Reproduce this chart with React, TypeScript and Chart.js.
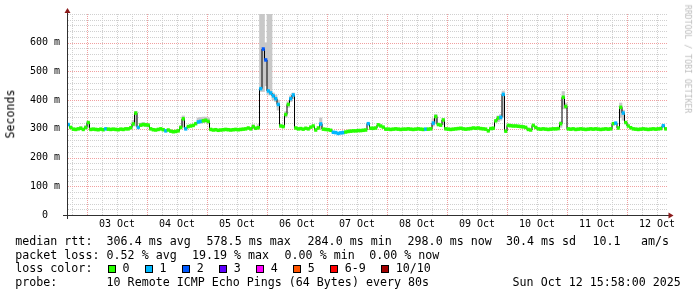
import { useEffect, useRef } from 'react';
import { Chart, registerables } from 'chart.js';

Chart.register(...registerables);

// Time axis: hours since Oct 2 16:00 (10 days = 240 hours, one slot per hour)
const TOTAL_HOURS = 240;
const dayLabels = ['03 Oct', '04 Oct', '05 Oct', '06 Oct', '07 Oct', '08 Oct', '09 Oct', '10 Oct', '11 Oct', '12 Oct'];
const dayLabelHours = [20, 44, 68, 92, 116, 140, 164, 188, 212, 236];
const midnightHours = [8, 32, 56, 80, 104, 128, 152, 176, 200, 224];

// median rtt per hour (ms)
const medianRtt = [
  315, 305, 299, 298, 300, 302, 298, 305, 322, 298, 299, 298, 297, 299, 297, 300, 299, 298, 299, 298, 297, 299, 298, 300,
  300, 304, 317, 355, 305, 313, 315, 314, 313, 300, 297, 296, 298, 300, 297, 293, 296, 292, 290, 291, 293, 305, 335, 300,
  308, 310, 312, 318, 324, 326, 328, 330, 326, 298, 296, 297, 295, 296, 297, 298, 297, 296, 297, 298, 297, 298, 299, 300,
  303, 300, 308, 302, 304, 440, 578, 540, 432, 425, 415, 405, 385, 310, 308, 350, 385, 405, 418, 303, 300, 301, 299, 302,
  300, 306, 310, 296, 303, 317, 299, 298, 297, 295, 288, 287, 284, 286, 287, 289, 291, 292, 293, 293, 294, 294, 295, 296,
  318, 302, 302, 303, 314, 310, 306, 299, 299, 298, 299, 300, 299, 298, 299, 299, 300, 299, 298, 299, 300, 299, 298, 299,
  299, 300, 320, 343, 315, 313, 331, 300, 299, 298, 299, 300, 301, 302, 300, 299, 300, 301, 303, 302, 303, 301, 300, 299,
  293, 301, 302, 328, 338, 340, 420, 292, 312, 311, 310, 310, 309, 308, 307, 305, 298, 296, 312, 305, 300, 299, 300, 299,
  298, 299, 300, 300, 301, 318, 410, 378, 300, 299, 300, 298, 299, 300, 299, 298, 299, 300, 299, 300, 299, 298, 299, 300,
  299, 300, 318, 320, 303, 375, 355, 322, 310, 304, 300, 299, 298, 299, 300, 299, 298, 299, 300, 299, 300, 301, 311, 300,
];

// hours with packet loss, and how many of the 10 pings were lost
const lossHours = [0, 15, 28, 39, 47, 52, 53, 77, 78, 79, 80, 81, 82, 83, 84, 89, 90, 101, 106, 107, 108, 109, 110, 120, 143, 146, 173, 174, 219, 222, 238];
const lossCounts = [1, 1, 1, 1, 1, 1, 1, 1, 2, 2, 1, 1, 1, 1, 1, 1, 1, 1, 1, 1, 1, 1, 1, 1, 1, 1, 1, 1, 1, 1, 1];

// smoke (spread of the individual pings) where it is visible
const smokeHours = [5, 7, 8, 26, 27, 29, 30, 31, 32, 45, 46, 52, 53, 54, 55, 56, 74, 76, 77, 78, 79, 80, 81, 82, 83, 84, 87, 88, 89, 90, 101, 146, 147, 150, 172, 173, 174, 197, 198, 199, 221, 222];
const smokeLow = [298, 298, 305, 310, 310, 308, 310, 308, 306, 300, 305, 320, 320, 322, 322, 318, 300, 300, 430, 430, 450, 418, 418, 400, 395, 365, 340, 375, 395, 405, 300, 310, 318, 315, 325, 330, 340, 305, 370, 370, 340, 330];
const smokeHigh = [308, 310, 325, 330, 360, 320, 322, 320, 318, 310, 345, 338, 340, 341, 341, 338, 314, 315, 710, 710, 600, 710, 710, 425, 418, 400, 360, 395, 415, 425, 338, 335, 350, 335, 345, 350, 432, 325, 430, 390, 390, 365];

const lossLegendLabels = ['0', '1', '2', '3', '4', '5', '6-9', '10/10'];
const lossLegendColors = ['#26ff00', '#00b8ff', '#0059ff', '#5e00ff', '#ff00ff', '#ff5500', '#ff0000', '#a10000'];

const Y_MAX = 700;
const Y_MINOR_STEP = 20;
const Y_MAJOR_STEP = 100;
const X_MINOR_STEP = 6;
const MONO = '"DejaVu Sans Mono", monospace';
const GRID_GRAY = '#d0d0d0';
const GRID_RED = '#f0a0a0';

function lossIndex(count: number): number {
  if (count <= 5) return count;
  if (count < 10) return 6;
  return 7;
}

// RRDtool-style dotted grid, drawn from the chart's own scales
const gridPlugin = {
  id: 'rrdGrid',
  beforeDatasetsDraw(chart: any) {
    const { ctx, chartArea, scales } = chart;
    const left = chartArea.left;
    const right = chartArea.right;
    const top = chartArea.top;
    const bottom = chartArea.bottom;
    const xs = scales['x'];
    const ys = scales['y'];
    ctx.save();
    ctx.lineWidth = 1;
    const vline = (h: number, color: string, dash: number[]) => {
      const px = Math.round(xs.getPixelForValue(h)) + 0.5;
      ctx.setLineDash(dash);
      ctx.strokeStyle = color;
      ctx.beginPath();
      ctx.moveTo(px, bottom);
      ctx.lineTo(px, top);
      ctx.stroke();
    };
    const hline = (v: number, color: string, dash: number[]) => {
      const py = Math.round(ys.getPixelForValue(v)) + 0.5;
      ctx.setLineDash(dash);
      ctx.strokeStyle = color;
      ctx.beginPath();
      ctx.moveTo(left + 1, py);
      ctx.lineTo(right, py);
      ctx.stroke();
    };
    for (let v = Y_MINOR_STEP; v <= Y_MAX; v += Y_MINOR_STEP) {
      if (v % Y_MAJOR_STEP !== 0 || v === Y_MAX) hline(v, GRID_GRAY, [1, 1]);
    }
    for (let h = 2; h < TOTAL_HOURS; h += X_MINOR_STEP) {
      if (midnightHours.indexOf(h) < 0) vline(h, GRID_GRAY, [1, 1]);
    }
    for (let v = Y_MAJOR_STEP; v < Y_MAX; v += Y_MAJOR_STEP) hline(v, GRID_RED, [1, 1]);
    for (let i = 0; i < midnightHours.length; i++) vline(midnightHours[i], GRID_RED, [1, 1]);
    ctx.restore();
  },
  afterDatasetsDraw(chart: any) {
    const { ctx, chartArea } = chart;
    const { left, right, top, bottom } = chartArea;
    ctx.save();
    ctx.strokeStyle = '#303030';
    ctx.lineWidth = 1;
    ctx.beginPath();
    ctx.moveTo(left - 4, bottom + 0.5);
    ctx.lineTo(right + 2, bottom + 0.5);
    ctx.moveTo(left + 0.5, bottom + 4);
    ctx.lineTo(left + 0.5, top - 2);
    ctx.stroke();
    ctx.fillStyle = '#8b1a1a';
    ctx.beginPath();
    ctx.moveTo(right + 1.5, bottom - 2.5);
    ctx.lineTo(right + 6.5, bottom + 0.5);
    ctx.lineTo(right + 1.5, bottom + 3.5);
    ctx.closePath();
    ctx.fill();
    ctx.beginPath();
    ctx.moveTo(left - 2.5, top - 1);
    ctx.lineTo(left + 0.5, top - 6);
    ctx.lineTo(left + 3.5, top - 1);
    ctx.closePath();
    ctx.fill();
    ctx.restore();
  },
};

export default function App() {
  const ref = useRef<HTMLCanvasElement>(null);

  useEffect(() => {
    const canvas = ref.current;
    if (!canvas) return;

    const lossPerHour = medianRtt.map((_, i) => {
      const k = lossHours.indexOf(i);
      return k >= 0 ? lossCounts[k] : 0;
    });

    const smokeData = smokeHours.map((h, i) => ({ x: h + 0.5, y: [smokeLow[i], smokeHigh[i]] }));
    const lineData = medianRtt.map((v, i) => ({ x: i + 0.5, y: v }));
    const lossBarData = medianRtt.map((v, i) => ({ x: i + 0.5, y: [v - 5, v + 5] }));
    const lossBarColors = lossPerHour.map((c) => lossLegendColors[lossIndex(c)]);

    const chart = new Chart(canvas, {
      type: 'bar',
      data: {
        datasets: [
          {
            type: 'bar',
            data: smokeData as any,
            backgroundColor: '#c8c8c8',
            barPercentage: 1,
            categoryPercentage: 1,
            grouped: false,
            order: 3,
            clip: 0,
          } as any,
          {
            type: 'line',
            data: lineData as any,
            borderColor: '#000000',
            borderWidth: 1,
            pointRadius: 0,
            stepped: 'middle',
            fill: false,
            order: 2,
            clip: 0,
          } as any,
          {
            type: 'bar',
            data: lossBarData as any,
            backgroundColor: lossBarColors,
            barPercentage: 1,
            categoryPercentage: 1,
            grouped: false,
            order: 1,
            clip: 0,
          } as any,
        ],
      },
      options: {
        animation: false,
        responsive: false,
        maintainAspectRatio: false,
        devicePixelRatio: 1,
        events: [],
        layout: { padding: { left: 0, right: 30, top: 14, bottom: 0 } },
        plugins: { legend: { display: false }, tooltip: { enabled: false } },
        scales: {
          x: {
            type: 'linear',
            min: 0,
            max: TOTAL_HOURS,
            offset: false,
            afterBuildTicks: (scale: any) => {
              scale.ticks = dayLabelHours.map((h) => ({ value: h }));
            },
            afterFit: (scale: any) => {
              scale.height = 82;
            },
            grid: { display: false, offset: false, drawTicks: false },
            border: { display: false },
            ticks: {
              autoSkip: false,
              maxRotation: 0,
              minRotation: 0,
              padding: 3.5,
              color: '#000000',
              font: { family: MONO, size: 10 },
              callback: (value: any) => {
                const k = dayLabelHours.indexOf(Number(value));
                return k >= 0 ? dayLabels[k] : '';
              },
            },
          } as any,
          y: {
            type: 'linear',
            min: 0,
            max: Y_MAX,
            afterFit: (scale: any) => {
              scale.width = 67;
            },
            grid: { display: false, drawTicks: false },
            border: { display: false },
            ticks: {
              stepSize: Y_MAJOR_STEP,
              autoSkip: false,
              padding: 7,
              color: '#000000',
              font: { family: MONO, size: 10 },
              callback: (value: any) => {
                const v = Number(value);
                if (v === 0) return '0  ';
                if (v < Y_MAX) return `${v} m`;
                return '';
              },
            },
          } as any,
        },
      },
      plugins: [gridPlugin],
    } as any);

    return () => chart.destroy();
  }, []);

  const textStyle = (left: number, top: number): any => ({
    position: 'absolute',
    left,
    top,
    fontFamily: MONO,
    fontSize: 11.65,
    lineHeight: '14px',
    whiteSpace: 'pre',
    color: '#000',
  });

  const row1: [number, string][] = [
    [15.3, 'median rtt:'],
    [106.6, '306.4 ms avg'],
    [206.6, '578.5 ms max'],
    [307.6, '284.0 ms min'],
    [407.6, '298.0 ms now'],
    [506, '30.4 ms sd'],
    [592.6, '10.1'],
    [641, 'am/s'],
  ];
  const row2: [number, string][] = [
    [15.3, 'packet loss:'],
    [106.6, '0.52 % avg'],
    [192, '19.19 % max'],
    [284.6, '0.00 % min'],
    [369.3, '0.00 % now'],
  ];
  const row4: [number, string][] = [
    [15.3, 'probe:'],
    [106.6, '10 Remote ICMP Echo Pings (64 Bytes) every 80s'],
    [512.6, 'Sun Oct 12 15:58:00 2025'],
  ];

  const boxLefts: number[] = [];
  let acc = 108.3;
  lossLegendLabels.forEach((l) => {
    boxLefts.push(acc);
    acc += 30 + l.length * 7.02;
  });

  return (
    <div
      style={{
        position: 'fixed',
        left: 0,
        top: 0,
        width: 697,
        height: 297,
        background: '#ffffff',
        overflow: 'hidden',
      }}
    >
      <canvas
        ref={ref}
        width={697}
        height={297}
        style={{ position: 'absolute', left: 0, top: 0, width: 697, height: 297 }}
      />
      <div
        style={{
          position: 'absolute',
          left: 10.5,
          top: 114,
          transform: 'translate(-50%, -50%) rotate(-90deg)',
          fontFamily: MONO,
          fontSize: 11.65,
          lineHeight: 1,
          whiteSpace: 'pre',
          color: '#000',
        }}
      >
        Seconds
      </div>
      <div
        style={{
          position: 'absolute',
          left: 688.3,
          top: 59.2,
          transform: 'translate(-50%, -50%) rotate(90deg)',
          fontFamily: MONO,
          fontSize: 8.2,
          lineHeight: 1,
          whiteSpace: 'pre',
          color: '#bdbdbd',
        }}
      >
        RRDTOOL / TOBI OETIKER
      </div>
      {row1.map(([x, t], i) => (
        <span key={'r1' + i} style={textStyle(x, 234.2)}>{t}</span>
      ))}
      {row2.map(([x, t], i) => (
        <span key={'r2' + i} style={textStyle(x, 247.8)}>{t}</span>
      ))}
      <span style={textStyle(15.3, 261.4)}>loss color:</span>
      {lossLegendLabels.map((l, i) => (
        <span key={'lb' + i}>
          <span
            style={{
              position: 'absolute',
              left: boxLefts[i],
              top: 265,
              width: 8,
              height: 8,
              boxSizing: 'border-box',
              border: '1px solid #000',
              background: lossLegendColors[i],
            }}
          />
          <span style={textStyle(boxLefts[i] + 14.3, 261.4)}>{l}</span>
        </span>
      ))}
      {row4.map(([x, t], i) => (
        <span key={'r4' + i} style={textStyle(x, 275)}>{t}</span>
      ))}
    </div>
  );
}
